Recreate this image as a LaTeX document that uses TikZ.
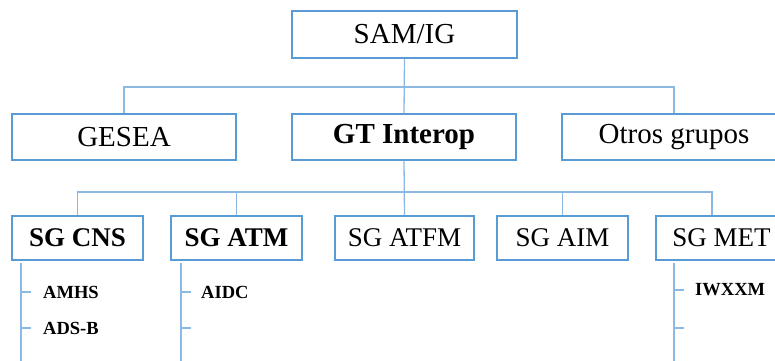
\documentclass[tikz,border=0pt]{standalone}
\usepackage{fontspec}
\setmainfont{Liberation Serif}
\definecolor{boxblue}{RGB}{91,155,213}
\definecolor{linkblue}{RGB}{140,185,228}
\tikzset{
  boxbase/.style={draw=boxblue, line width=1.6pt, rectangle, inner sep=0pt, text=black},
  lvlone/.style={boxbase, minimum width=224pt, minimum height=46pt, font=\fontsize{29}{32}\selectfont},
  lvltwo/.style={boxbase, minimum height=44pt, font=\fontsize{27}{30}\selectfont},
  link/.style={draw=linkblue, line width=1.3pt},
  subitem/.style={anchor=west, inner sep=0pt, font=\fontsize{18.5}{20}\selectfont\bfseries},
}
\begin{document}
\begin{tikzpicture}[x=1pt,y=-1pt]
\useasboundingbox (0,0) rectangle (775,360);
\clip (0,0) rectangle (775,360);
% level 0
\node[lvlone, minimum width=225pt, minimum height=47pt] (sam) at (404.5,34.5) {SAM/IG};
% level 1
\node[lvlone] (gesea) at (124,137) {GESEA};
\node[lvlone] (gt) at (404,137) {\textbf{GT Interop}};
\node[lvlone] (otros) at (674,137) {Otros grupos};
% level 2
\node[lvltwo, minimum width=131pt] (cns) at (77.5,238) {\textbf{SG CNS}};
\node[lvltwo, minimum width=131pt] (atm) at (236.5,238) {\textbf{SG ATM}};
\node[lvltwo, minimum width=139pt] (atfm) at (404.5,238) {SG ATFM};
\node[lvltwo, minimum width=131pt] (aim) at (562.5,238) {SG AIM};
\node[lvltwo, minimum width=131pt] (met) at (721.5,238) {SG MET};
% bus coordinates
\coordinate (b1) at (404,87);
\coordinate (b2) at (404,192);
\coordinate (b2r) at (712,192);
% level 0 -> level 1
\draw[link] (sam.south) -- (gt.north);
\draw[link] (gesea.north) |- (b1) -| (otros.north);
% level 1 -> level 2
\draw[link] (gt.south) -- (atfm.north);
\draw[link] (cns.north) |- (b2r) -- (b2r |- met.north);
\draw[link] (atm.north) -- (atm.north |- b2);
\draw[link] (aim.north) -- (aim.north |- b2);
% sub items
\coordinate (cnsl) at (21,263);
\coordinate (atml) at (181,263);
\coordinate (metl) at (674,263);
\draw[link] (cnsl) -- (21,362);
\draw[link] (atml) -- (181,362);
\draw[link] (metl) -- (674,362);
\node[subitem] (amhs) at (43,292) {AMHS};
\node[subitem] (adsb) at (43,328) {ADS-B};
\node[subitem] (aidc) at (201,292) {AIDC};
\node[subitem] (iwxxm) at (695,290) {IWXXM};
\draw[link] (21,292) -- (31,292);
\draw[link] (21,328) -- (31,328);
\draw[link] (181,292) -- (191,292);
\draw[link] (181,328) -- (191,328);
\draw[link] (674,290) -- (684,290);
\draw[link] (674,328) -- (684,328);
\end{tikzpicture}
\end{document}
